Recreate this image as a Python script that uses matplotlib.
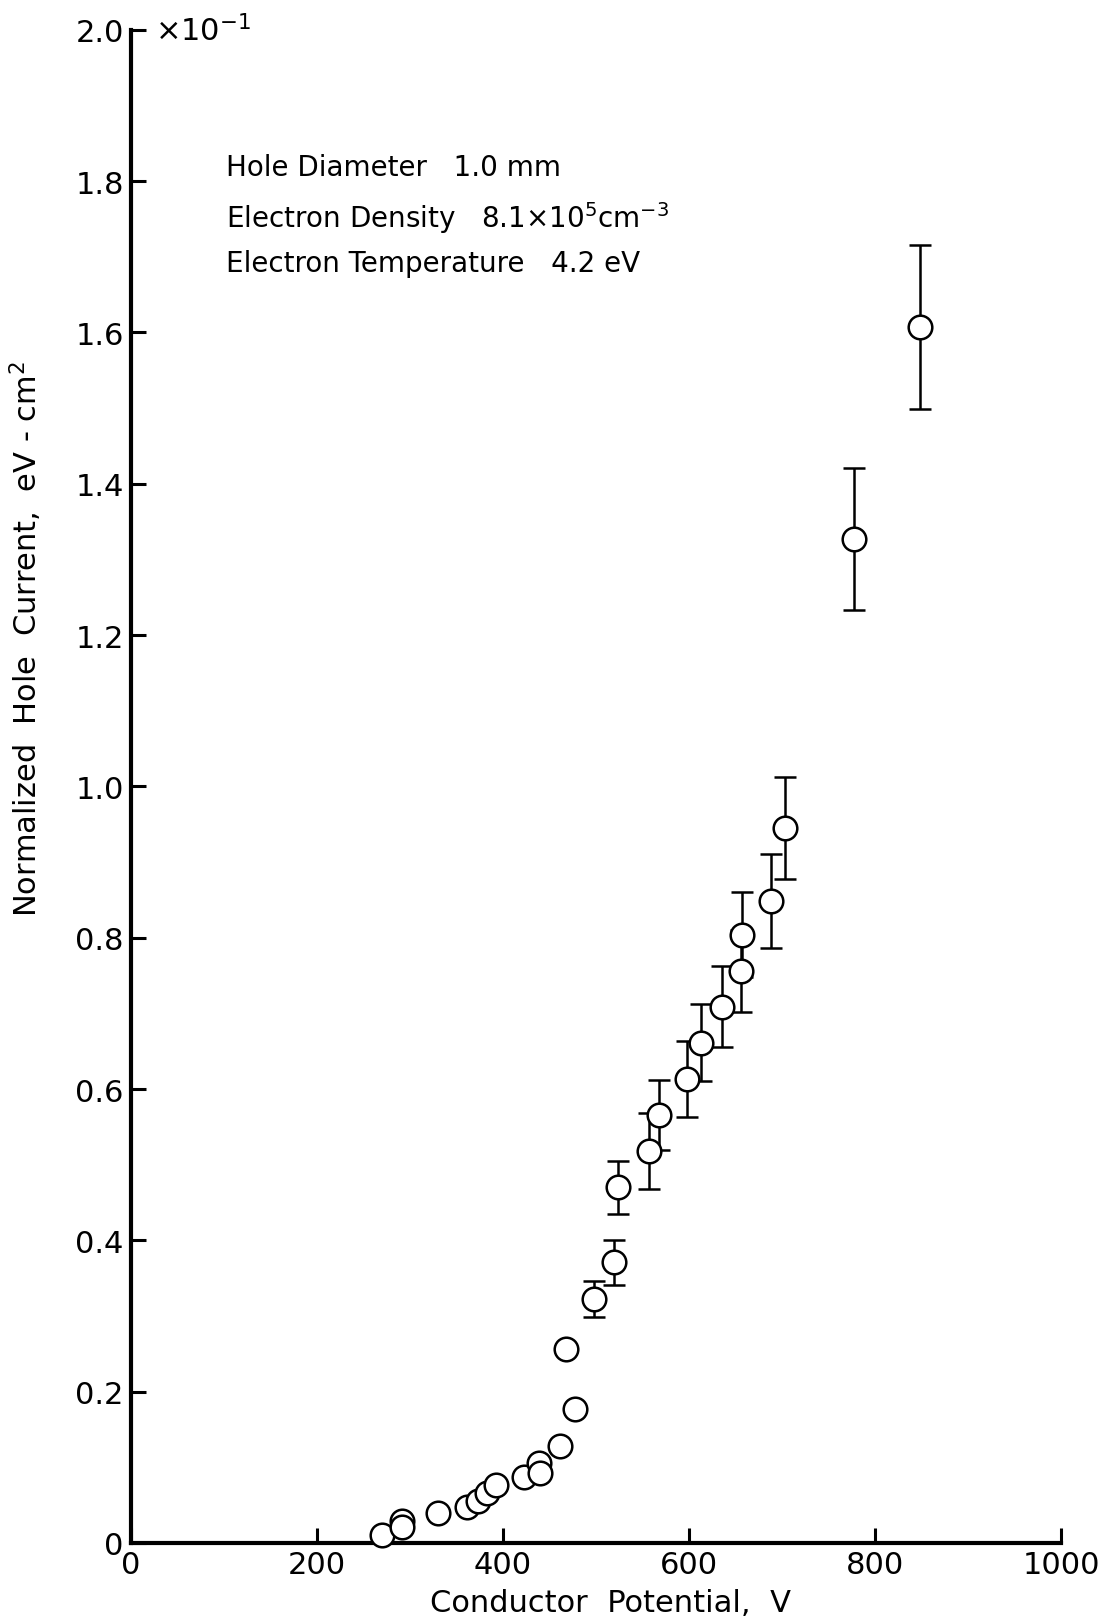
import numpy as np
import matplotlib
matplotlib.use("Agg")
import matplotlib.pyplot as plt

plt.rcParams['font.family'] = ['DejaVu Sans']
plt.rcParams['mathtext.default'] = 'regular'

# conductor potential (V) and normalized hole current (x10^-1 eV-cm^2)
volts = [270, 292, 292, 330, 361, 373, 383, 393, 423, 439, 440, 461, 468, 478,
         498, 519, 524, 557, 568, 598, 613, 636, 656, 657, 688, 703, 778, 848]
current = [0.011, 0.029, 0.021, 0.039, 0.048, 0.056, 0.066, 0.076, 0.087, 0.106,
           0.093, 0.128, 0.256, 0.177, 0.322, 0.371, 0.470, 0.518, 0.566, 0.613,
           0.661, 0.709, 0.756, 0.804, 0.849, 0.945, 1.327, 1.607]
# error bar half-widths (0 = no error bar drawn)
err = [0, 0, 0, 0, 0, 0, 0, 0, 0, 0, 0, 0, 0, 0,
       0.024, 0.030, 0.035, 0.050, 0.046, 0.050, 0.051, 0.054, 0.054, 0.056,
       0.062, 0.068, 0.094, 0.108]

xticks = [0, 200, 400, 600, 800, 1000]
yticks = [0, 0.2, 0.4, 0.6, 0.8, 1.0, 1.2, 1.4, 1.6, 1.8, 2.0]
ytick_labels = ['0', '0.2', '0.4', '0.6', '0.8', '1.0', '1.2', '1.4', '1.6', '1.8', '2.0']

info_lines = ["Hole Diameter   1.0 mm",
              "Electron Density   8.1$\\times$10$^{5}$cm$^{-3}$",
              "Electron Temperature   4.2 eV"]

fig = plt.figure(figsize=(11.11, 16.24), dpi=100)
ax = fig.add_axes([0.1176, 0.0493, 0.8374, 0.9317])

x = np.array(volts)
y = np.array(current)
e = np.array(err)
m = e > 0
ax.errorbar(x[m], y[m], yerr=e[m], fmt='none', ecolor='black',
            elinewidth=1.8, capsize=8, capthick=1.8, zorder=2, clip_on=False)
ax.plot(x, y, 'o', ms=17, mfc='white', mec='black', mew=1.8,
        zorder=3, clip_on=False)

ax.set_xlim(0, 1000)
ax.set_ylim(0, 2.0)
ax.set_xticks(xticks)
ax.set_yticks(yticks)
ax.set_yticklabels(ytick_labels)

for s in ['top', 'right']:
    ax.spines[s].set_visible(False)
for s in ['left', 'bottom']:
    ax.spines[s].set_linewidth(3)

ax.tick_params(direction='in', length=11, width=2.2, labelsize=22, pad=5)

ax.set_xlabel('Conductor  Potential,  V', fontsize=22)
ax.xaxis.set_label_coords(0.516, -0.030)
ax.set_ylabel('Normalized  Hole  Current,  eV - cm$^{2}$', fontsize=22)
ax.yaxis.set_label_coords(-0.093, 0.598)

ax.text(26, 2.0, '$\\times$10$^{-1}$', fontsize=22, ha='left', va='center')

for yy, line in zip([1.819, 1.753, 1.692], info_lines):
    ax.text(103, yy, line, fontsize=20, ha='left', va='center')

fig.savefig('out.png', dpi=100)
